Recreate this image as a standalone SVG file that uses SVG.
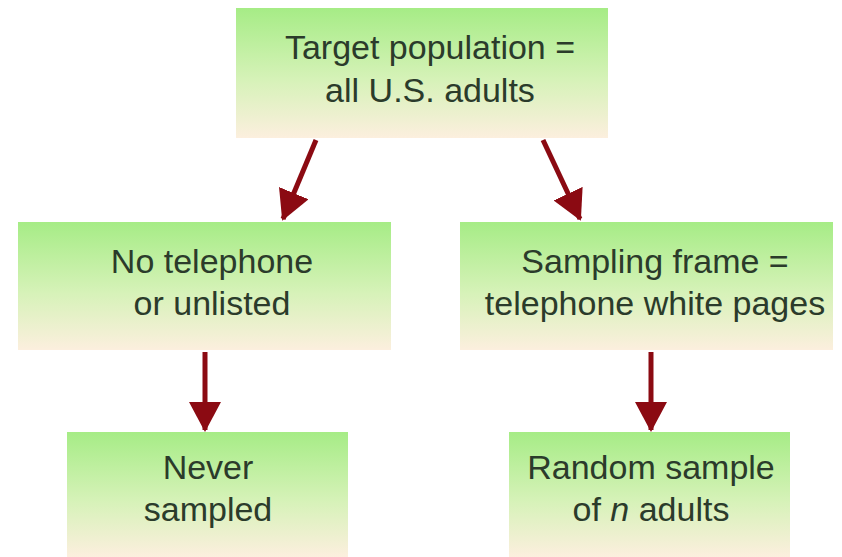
<svg xmlns="http://www.w3.org/2000/svg" width="842" height="557" viewBox="0 0 842 557">
<style>
.box{fill:url(#g)}
.t{font-family:"Liberation Sans",Arial,sans-serif;font-size:34px;fill:#2b3b2b;text-anchor:middle}
.c{stroke:#8b0a12;stroke-width:5;fill:none}
</style>
<defs>
<linearGradient id="g" x1="0" y1="0" x2="0" y2="1">
<stop offset="0" stop-color="#a6ec86"/>
<stop offset="0.55" stop-color="#d6f2b8"/>
<stop offset="1" stop-color="#fcefde"/>
</linearGradient>
<marker id="ah" markerUnits="userSpaceOnUse" markerWidth="30" markerHeight="32" viewBox="0 0 30 32" refX="28" refY="16" orient="auto">
<path d="M0,0 L30,16 L0,32 Z" fill="#8b0a12"/>
</marker>
</defs>
<g id="n-target">
<rect class="box" x="236" y="8" width="372" height="130"/>
<text class="t" x="430" y="59">Target population =</text>
<text class="t" x="430" y="102">all U.S. adults</text>
</g>
<g id="n-nophone">
<rect class="box" x="18" y="222" width="373" height="128"/>
<text class="t" x="212" y="273">No telephone</text>
<text class="t" x="212" y="315">or unlisted</text>
</g>
<g id="n-frame">
<rect class="box" x="460" y="222" width="373" height="128"/>
<text class="t" x="655" y="273">Sampling frame =</text>
<text class="t" x="655" y="315">telephone white pages</text>
</g>
<g id="n-never">
<rect class="box" x="67" y="432" width="281" height="125"/>
<text class="t" x="208" y="479">Never</text>
<text class="t" x="208" y="521">sampled</text>
</g>
<g id="n-random">
<rect class="box" x="509" y="432" width="281" height="125"/>
<text class="t" x="651" y="479">Random sample</text>
<text class="t" x="651" y="521">of <tspan font-style="italic">n</tspan> adults</text>
</g>
<g id="connectors">
<line class="c" x1="316" y1="140" x2="283" y2="219" marker-end="url(#ah)"/>
<line class="c" x1="543" y1="140" x2="580" y2="219" marker-end="url(#ah)"/>
<line class="c" x1="205" y1="352" x2="205" y2="430" marker-end="url(#ah)"/>
<line class="c" x1="651" y1="352" x2="651" y2="430" marker-end="url(#ah)"/>
</g>
</svg>
